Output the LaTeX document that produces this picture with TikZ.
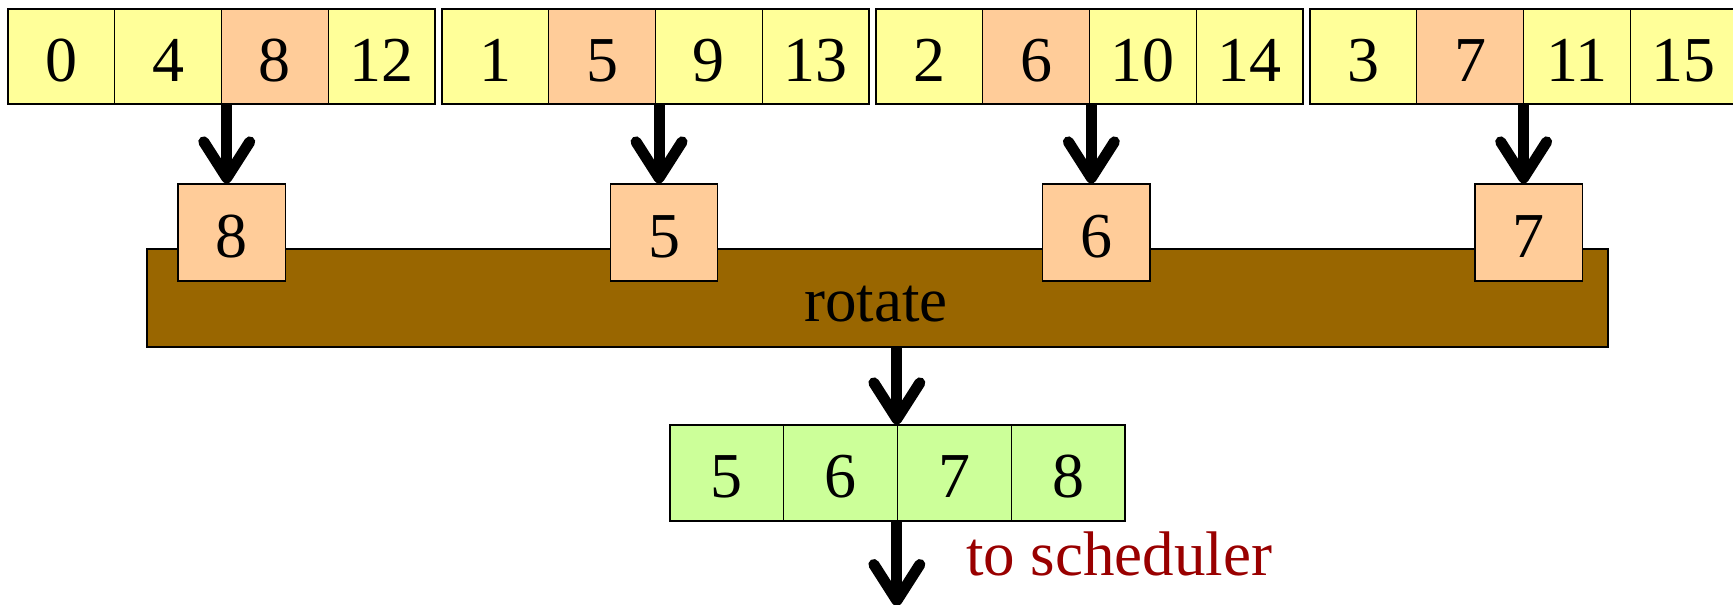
\documentclass[tikz,border=0pt]{standalone}
\usepackage{fontspec}
\setmainfont{Liberation Serif}
\usetikzlibrary{arrows.meta}
\definecolor{celly}{HTML}{FFFF99}
\definecolor{cello}{HTML}{FFCC99}
\definecolor{cellg}{HTML}{CCFF99}
\definecolor{barbrown}{HTML}{996600}
\definecolor{schedred}{HTML}{990000}

\begin{document}
\begin{tikzpicture}[x=1pt,y=-1pt,
  numfont/.style={font=\fontsize{64}{70}\selectfont, text height=49pt, text depth=0pt},
  cell/.style={draw=black, line width=1.3pt, inner sep=0pt, numfont},
  topcell/.style={cell, minimum width=106.75pt, minimum height=95pt},
  pickbox/.style={cell, fill=cello, minimum width=107.5pt, minimum height=97pt},
  outcell/.style={cell, fill=cellg, minimum width=113.75pt, minimum height=96pt},
  bigarrow/.style={line width=11pt, -{Straight Barb[length=36pt, width=46pt, round]}}
]
\useasboundingbox (0,0) rectangle (1733,605);

% rotate unit
\node[draw=black, line width=2pt, fill=barbrown, minimum width=1460.5pt,
      minimum height=98pt, inner sep=0pt] (bar) at (877.25,298) {};
\node[anchor=base, inner sep=0pt, font=\fontsize{63}{70}\selectfont] (rot) at (876,321) {rotate};

% four input vectors with one picked element each
\foreach \g in {0,1,2,3} {
  \foreach \c in {0,1,2,3} {
    \pgfmathtruncatemacro\val{\g+4*\c}
    \pgfmathsetmacro\cx{8+434*\g+106.75*\c+53.375}
    \pgfmathtruncatemacro\hi{\g==0 ? (\c==2 ? 1 : 0) : (\c==1 ? 1 : 0)}
    \ifnum\hi=1 \def\fc{cello}\else\def\fc{celly}\fi
    \node[topcell, fill=\fc] (t\g\c) at (\cx,56.5) {\val};
  }
}

% picked elements sitting on the rotate unit
\foreach \g/\v in {0/8,1/5,2/6,3/7} {
  \pgfmathsetmacro\bx{231.75+432.3*\g}
  \node[pickbox] (s\g) at (\bx,232.5) {\v};
}

% arrows from the picked cells down to the rotate inputs
\foreach \g/\h in {0/2,1/1,2/1,3/1} {
  \draw[bigarrow] ([xshift=-5pt]s\g.north |- t\g\h.south) -- ([xshift=-5pt]s\g.north);
}

% output vector
\foreach \v [count=\i from 0] in {5,6,7,8} {
  \pgfmathsetmacro\ox{670+113.75*\i+56.875}
  \node[outcell] (b\i) at (\ox,473) {\v};
}

\draw[bigarrow] (bar.south -| b2.north west) -- (b2.north west);
\coordinate (out) at (b2.south west |- 0,606);
\draw[bigarrow] (b2.south west) -- (out);
\node[anchor=base west, inner sep=0pt, text=schedred, font=\fontsize{63}{70}\selectfont] (sched) at (966,575) {to scheduler};
\end{tikzpicture}
\end{document}
